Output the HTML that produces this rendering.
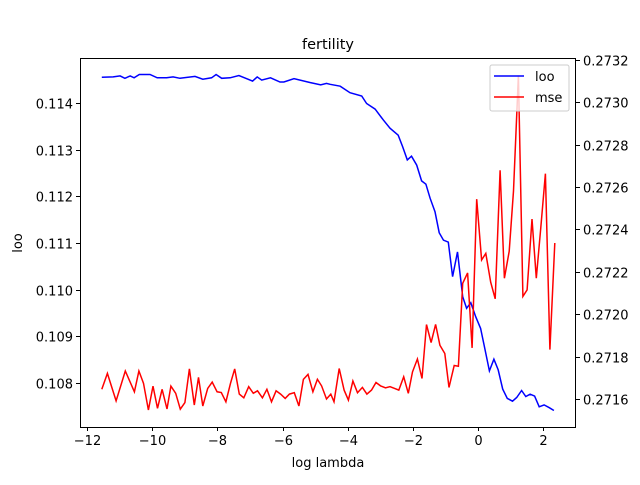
<!DOCTYPE html>
<html><head><meta charset="utf-8"><style>
body{margin:0;background:#fff}
svg text{font-family:"DejaVu Sans","Liberation Sans",sans-serif;fill:#000}
</style></head><body>
<svg id="chart" width="640" height="480" viewBox="0 0 640 480" xmlns="http://www.w3.org/2000/svg">
<rect width="640" height="480" fill="#fff"/>
<text x="328" y="49" font-size="14.5" text-anchor="middle">fertility</text>
<text x="328" y="467" font-size="13" text-anchor="middle">log lambda</text>
<text x="22" y="243" font-size="13" text-anchor="middle" transform="rotate(-90 22 243)">loo</text>
<g id="plot"></g>
<rect x="80.5" y="58.5" width="495" height="369" fill="none" stroke="#000" stroke-width="1"/>
<g>
<rect x="490" y="65" width="79" height="46" rx="2" fill="#fff" fill-opacity="0.8" stroke="#ccc"/>
<line x1="494" y1="76" x2="524" y2="76" stroke="#0000ff" stroke-width="1.5"/>
<text x="535" y="81" font-size="13">loo</text>
<line x1="494" y1="97" x2="524" y2="97" stroke="#ff0000" stroke-width="1.5"/>
<text x="535" y="102" font-size="13">mse</text>
</g>
</svg>
<script>
const xTicks=[-12,-10,-8,-6,-4,-2,0,2];
const leftTicks=[0.108,0.109,0.110,0.111,0.112,0.113,0.114];
const rightTicks=[0.2716,0.2718,0.2720,0.2722,0.2724,0.2726,0.2728,0.2730,0.2732];
const looX=[-11.55,-11.2,-10.99,-10.84,-10.68,-10.56,-10.4,-10.07,-9.85,-9.56,-9.36,-9.15,-8.69,-8.45,-8.18,-8.04,-7.87,-7.61,-7.34,-7.1,-6.92,-6.78,-6.64,-6.37,-6.08,-5.96,-5.65,-5.16,-4.83,-4.65,-4.54,-4.23,-3.93,-3.57,-3.42,-3.16,-2.91,-2.7,-2.45,-2.31,-2.17,-2.04,-1.88,-1.73,-1.6,-1.47,-1.32,-1.19,-1.06,-0.91,-0.78,-0.63,-0.47,-0.35,-0.22,-0.07,0.08,0.21,0.35,0.49,0.62,0.76,0.9,1.06,1.19,1.34,1.47,1.6,1.74,1.88,2.03,2.19,2.33];
const looY=[0.11455,0.11456,0.11458,0.11453,0.11458,0.11454,0.11461,0.11461,0.11454,0.11454,0.11456,0.11453,0.11457,0.11451,0.11454,0.11461,0.11453,0.11454,0.11459,0.11452,0.11447,0.11456,0.11449,0.11454,0.11445,0.11445,0.11452,0.11444,0.11439,0.11442,0.1144,0.11436,0.11422,0.11415,0.11399,0.11387,0.11364,0.11346,0.11331,0.11306,0.11278,0.11286,0.11267,0.11233,0.11226,0.11196,0.11167,0.11122,0.11106,0.11102,0.11028,0.11081,0.10985,0.1096,0.10972,0.10942,0.10917,0.10874,0.10826,0.10851,0.10828,0.10787,0.10767,0.10761,0.10769,0.10784,0.10771,0.10776,0.10772,0.10749,0.10753,0.10747,0.10741];
const mseX=[-11.55,-11.38,-11.11,-10.83,-10.55,-10.41,-10.27,-10.12,-9.98,-9.84,-9.7,-9.55,-9.43,-9.28,-9.14,-9.0,-8.86,-8.71,-8.58,-8.45,-8.3,-8.16,-8.01,-7.88,-7.74,-7.6,-7.47,-7.33,-7.19,-7.04,-6.9,-6.77,-6.62,-6.48,-6.34,-6.2,-6.06,-5.92,-5.79,-5.64,-5.5,-5.36,-5.22,-5.07,-4.93,-4.8,-4.65,-4.52,-4.42,-4.26,-4.11,-3.98,-3.84,-3.7,-3.55,-3.41,-3.27,-3.13,-2.99,-2.84,-2.7,-2.56,-2.43,-2.28,-2.14,-2.01,-1.86,-1.72,-1.58,-1.44,-1.3,-1.17,-1.02,-0.89,-0.73,-0.6,-0.47,-0.32,-0.18,-0.04,0.11,0.24,0.39,0.53,0.68,0.81,0.96,1.09,1.24,1.38,1.51,1.66,1.79,1.93,2.07,2.21,2.36];
const mseY=[0.271646,0.271721,0.271591,0.271732,0.271634,0.271732,0.271674,0.271548,0.271661,0.271556,0.271646,0.271553,0.271661,0.271627,0.271552,0.271583,0.271742,0.271572,0.271702,0.271567,0.27165,0.27168,0.271634,0.271631,0.271587,0.271674,0.271742,0.271623,0.271606,0.271658,0.271627,0.271639,0.271606,0.271646,0.271587,0.271639,0.271623,0.271603,0.271623,0.27163,0.271567,0.271693,0.271716,0.271634,0.271693,0.271662,0.2716,0.271623,0.271587,0.271744,0.271642,0.271595,0.271685,0.27163,0.271655,0.271623,0.271642,0.271678,0.271662,0.271653,0.271658,0.27165,0.271642,0.271705,0.271627,0.271728,0.271789,0.271697,0.271951,0.271866,0.271952,0.271854,0.271815,0.271655,0.271758,0.271755,0.272146,0.272195,0.271841,0.272543,0.272256,0.272287,0.272151,0.272073,0.272679,0.27217,0.272297,0.272582,0.273127,0.272084,0.272115,0.272449,0.27217,0.272409,0.272663,0.271833,0.272336];

const L=80,R=576,T=58,B=427;
const xMin=-12.22,xMax=3.01,lMin=0.107057,lMax=0.114964,rMin=0.271468,rMax=0.273209;
const sx=v=>L+(v-xMin)/(xMax-xMin)*(R-L);
const sl=v=>B-(v-lMin)/(lMax-lMin)*(B-T);
const sr=v=>B-(v-rMin)/(rMax-rMin)*(B-T);
const NS='http://www.w3.org/2000/svg';
const g=document.getElementById('plot');
function mk(tag,attrs,parent){const e=document.createElementNS(NS,tag);for(const k in attrs)e.setAttribute(k,attrs[k]);(parent||g).appendChild(e);return e;}
xTicks.forEach(t=>{const x=Math.round(sx(t))+0.5;
 const l=mk('line',{x1:x,x2:x,y1:B,y2:B+4,stroke:'#000'});
 
 
 const tx=mk('text',{x:x,y:B+18,'font-size':'13','text-anchor':'middle'});
 
 
 tx.textContent=(t<0?'\u2212'+(-t):t);});
leftTicks.forEach(t=>{const y=Math.round(sl(t))+0.5;
 const l=mk('line',{x1:L-4,x2:L,y1:y,y2:y,stroke:'#000'});
 
 
 const tx=mk('text',{x:L-7,y:y+5,'font-size':'13','text-anchor':'end'});
 
 
 tx.textContent=t.toFixed(3);});
rightTicks.forEach(t=>{const y=Math.round(sr(t))+0.5;
 const l=mk('line',{x1:R,x2:R+4,y1:y,y2:y,stroke:'#000'});
 
 
 const tx=mk('text',{x:R+7,y:y+5,'font-size':'13'});
 
 
 tx.textContent=t.toFixed(4);});
const pl=mk('polyline',{points:looX.map((x,i)=>sx(x).toFixed(1)+','+sl(looY[i]).toFixed(1)).join(' '),fill:'none',stroke:'#0000ff','stroke-width':'1.5'});


const pm=mk('polyline',{points:mseX.map((x,i)=>sx(x).toFixed(1)+','+sr(mseY[i]).toFixed(1)).join(' '),fill:'none',stroke:'#ff0000','stroke-width':'1.5'});


</script>
</body></html>
